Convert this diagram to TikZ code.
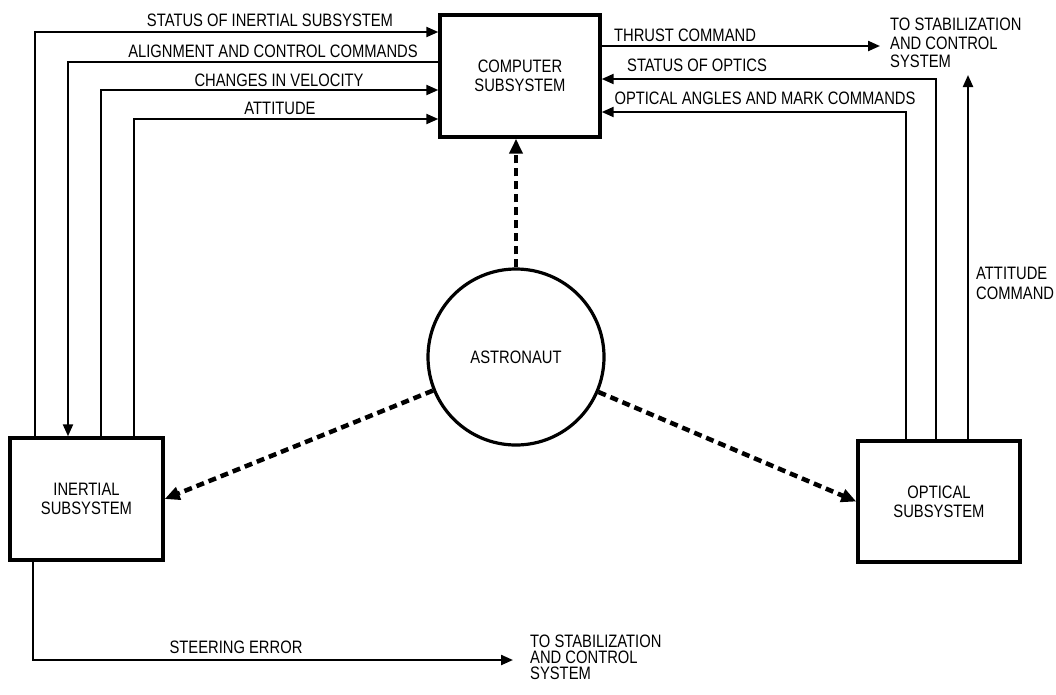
\documentclass[tikz,border=0pt]{standalone}
\usepackage{fontspec}
\setmainfont{Liberation Sans}[FakeStretch=0.82]
\usetikzlibrary{arrows.meta}
\begin{document}
\begin{tikzpicture}[x=1pt,y=-1pt,
  lbl/.style={font=\fontsize{18}{18.5}\selectfont, inner sep=0pt},
  box/.style={draw, line width=3.4pt, inner sep=0pt, align=center, font=\fontsize{18}{19}\selectfont},
  flow/.style={line width=2.2pt, -{Triangle[length=12pt,width=10pt]}},
  dashflow/.style={line width=4.5pt, dash pattern=on 8pt off 5pt, -{Triangle[length=15pt,width=13pt]}}]
\useasboundingbox (0,0) rectangle (1056,694);
% boxes
\node[box, minimum width=160pt, minimum height=122pt] (comp) at (520,76) {COMPUTER\\SUBSYSTEM};
\node[box, minimum width=153pt, minimum height=122pt] (inert) at (86.5,499) {INERTIAL\\SUBSYSTEM};
\node[box, minimum width=162pt, minimum height=121pt] (opt) at (939,501.5) {OPTICAL\\SUBSYSTEM};
\node[draw, circle, line width=3.2pt, minimum size=176pt, inner sep=0pt, font=\fontsize{18}{19}\selectfont] (astro) at (516,357) {ASTRONAUT};
% lane coordinates
\coordinate (a1) at (35,32);
\coordinate (a2) at (68,62);
\coordinate (a3) at (101,90);
\coordinate (a4) at (134,119);
\coordinate (th) at (880,46);
\coordinate (o2) at (936,79);
\coordinate (o1) at (906,112);
\coordinate (o3) at (968,75);
\coordinate (s0) at (33,0);
\coordinate (se) at (513,660);
% left connectors
\draw[flow] (inert.north -| a1) |- (comp.west |- a1);
\draw[flow] (comp.west |- a2) -| (inert.north -| a2);
\draw[flow] (inert.north -| a3) |- (comp.west |- a3);
\draw[flow] (inert.north -| a4) |- (comp.west |- a4);
% right connectors
\draw[flow] (comp.east |- th) -- (th);
\draw[flow] (opt.north -| o2) |- (comp.east |- o2);
\draw[flow] (opt.north -| o1) |- (comp.east |- o1);
\draw[flow] (opt.north -| o3) -- (o3);
% steering error
\draw[flow] (inert.south -| s0) |- (se);
% astronaut links
\draw[dashflow] (astro) -- (comp.south -| astro);
\draw[dashflow] (astro) -- (inert.east);
\draw[dashflow] (astro) -- (opt.west);
% labels
\node[lbl] (l1) at (270,20) {STATUS OF INERTIAL SUBSYSTEM};
\node[lbl] (l2) at (273,51) {ALIGNMENT AND CONTROL COMMANDS};
\node[lbl] (l3) at (279,80) {CHANGES IN VELOCITY};
\node[lbl] (l4) at (280,108) {ATTITUDE};
\node[lbl] (l5) at (685,35) {THRUST COMMAND};
\node[lbl] (l6) at (697,65) {STATUS OF OPTICS};
\node[lbl] (l7) at (765,98) {OPTICAL ANGLES AND MARK COMMANDS};
\node[lbl, anchor=west, align=left, font=\fontsize{18}{20}\selectfont] (l8) at (976,283) {ATTITUDE\\COMMAND};
\node[lbl, anchor=west, align=left] (l9) at (890,43) {TO STABILIZATION\\AND CONTROL\\SYSTEM};
\node[lbl] (l10) at (236,647) {STEERING ERROR};
\node[lbl, anchor=west, align=left, font=\fontsize{18}{16}\selectfont] (l11) at (530,657) {TO STABILIZATION\\AND CONTROL\\SYSTEM};
\end{tikzpicture}
\end{document}
